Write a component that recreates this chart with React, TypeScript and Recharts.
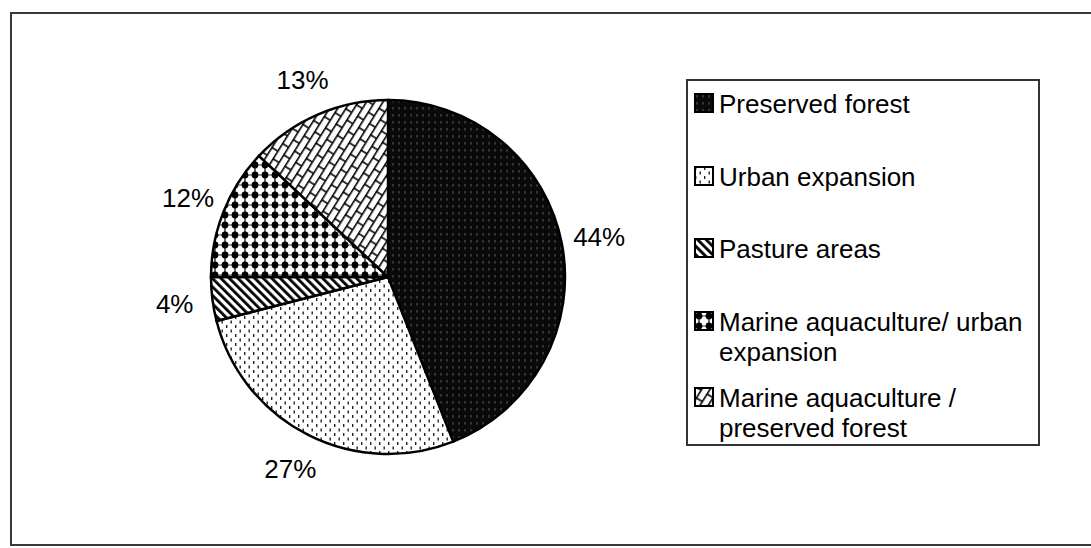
import React from 'react';
import { Cell, Legend, Pie, PieChart } from 'recharts';

const categories = [
  'Preserved forest',
  'Urban expansion',
  'Pasture areas',
  'Marine aquaculture/ urban expansion',
  'Marine aquaculture / preserved forest',
];
const shares = [44, 27, 4, 12, 13];

const patternIds = ['pat-forest', 'pat-urban', 'pat-pasture', 'pat-mar-urban', 'pat-mar-forest'];
const legendTops = [8, 81, 153, 226, 302];

const data = categories.map((name, i) => ({ name, value: shares[i] }));

const FONT = '"Liberation Sans", Arial, sans-serif';
const RAD = Math.PI / 180;

function Patterns() {
  return (
    <defs>
      <pattern id="pat-forest" width="6" height="7" patternUnits="userSpaceOnUse">
        <rect width="6" height="7" fill="#0a0a0a" />
        <rect x="2.5" y="2" width="1.1" height="2.6" fill="#555" />
      </pattern>
      <pattern id="pat-urban" width="9" height="9" patternUnits="userSpaceOnUse">
        <rect width="9" height="9" fill="#fff" />
        <rect x="1" y="1" width="1.4" height="3" fill="#222" />
        <rect x="5.5" y="5.5" width="1.4" height="3" fill="#222" />
      </pattern>
      <pattern
        id="pat-pasture"
        width="6"
        height="6"
        patternUnits="userSpaceOnUse"
        patternTransform="rotate(-45)"
      >
        <rect width="6" height="6" fill="#fff" />
        <rect x="0" y="0" width="2.8" height="6" fill="#000" />
      </pattern>
      <pattern id="pat-mar-urban" width="10" height="10" patternUnits="userSpaceOnUse">
        <rect width="10" height="10" fill="#fff" />
        <line x1="5" y1="0" x2="5" y2="10" stroke="#000" strokeWidth="1.2" />
        <line x1="0" y1="5" x2="10" y2="5" stroke="#000" strokeWidth="0.8" />
        <circle cx="5" cy="5" r="3.4" fill="#000" />
      </pattern>
      <pattern
        id="pat-mar-forest"
        width="18"
        height="14"
        patternUnits="userSpaceOnUse"
        patternTransform="rotate(-58)"
      >
        <rect width="18" height="14" fill="#fff" />
        <line x1="0" y1="0.8" x2="18" y2="0.8" stroke="#000" strokeWidth="1.6" />
        <line x1="0" y1="7.8" x2="18" y2="7.8" stroke="#000" strokeWidth="1.6" />
        <line x1="1" y1="0" x2="1" y2="7.8" stroke="#000" strokeWidth="1.6" />
        <line x1="10" y1="7.8" x2="10" y2="14" stroke="#000" strokeWidth="1.6" />
      </pattern>
    </defs>
  );
}

function renderLabel(props: any) {
  const { cx, cy, midAngle, outerRadius, value } = props;
  const r = outerRadius + 38;
  const x = cx + r * Math.cos(-midAngle * RAD);
  const y = cy + r * Math.sin(-midAngle * RAD);
  return (
    <text
      x={x}
      y={y}
      textAnchor="middle"
      dominantBaseline="central"
      fill="#000"
      fontSize={26}
      fontFamily={FONT}
    >
      {`${value}%`}
    </text>
  );
}

function LegendBox() {
  return (
    <div
      style={{
        position: 'relative',
        width: 354,
        height: 367,
        boxSizing: 'border-box',
        border: '2px solid #333',
        background: '#fff',
        fontFamily: FONT,
        fontSize: 26,
        lineHeight: '30px',
        color: '#000',
      }}
    >
      {categories.map((name, i) => (
        <div
          key={name}
          style={{ position: 'absolute', left: 6, top: legendTops[i], display: 'flex', width: 342 }}
        >
          <svg width={20} height={20} style={{ marginTop: 4, marginRight: 5, flex: 'none' }}>
            <rect x={1} y={1} width={18} height={18} fill={`url(#${patternIds[i]})`} stroke="#000" strokeWidth={2} />
          </svg>
          <span style={{ width: 318 }}>{name}</span>
        </div>
      ))}
    </div>
  );
}

export default function App() {
  return (
    <div style={{ position: 'absolute', left: 0, top: 0, width: 1091, height: 548, background: '#fff', overflow: 'hidden' }}>
      <div
        style={{
          position: 'absolute',
          left: 10,
          top: 12,
          width: 1100,
          height: 530,
          border: '2px solid #3a3a3a',
        }}
      />
      <div style={{ position: 'absolute', left: 0, top: 0 }}>
        <PieChart width={1091} height={548} margin={{ top: 0, right: 0, bottom: 0, left: 0 }}>
          <Patterns />
          <Pie
            data={data}
            dataKey="value"
            nameKey="name"
            cx={388}
            cy={277}
            outerRadius={177}
            startAngle={90}
            endAngle={-270}
            stroke="#000"
            strokeWidth={2.5}
            label={renderLabel}
            labelLine={false}
            isAnimationActive={false}
          >
            {data.map((d, i) => (
              <Cell key={d.name} fill={`url(#${patternIds[i]})`} />
            ))}
          </Pie>
          <Legend
            layout="vertical"
            align="right"
            verticalAlign="top"
            content={() => <LegendBox />}
            wrapperStyle={{ position: 'absolute', left: 686, top: 79, width: 354, height: 367 }}
          />
        </PieChart>
      </div>
    </div>
  );
}
